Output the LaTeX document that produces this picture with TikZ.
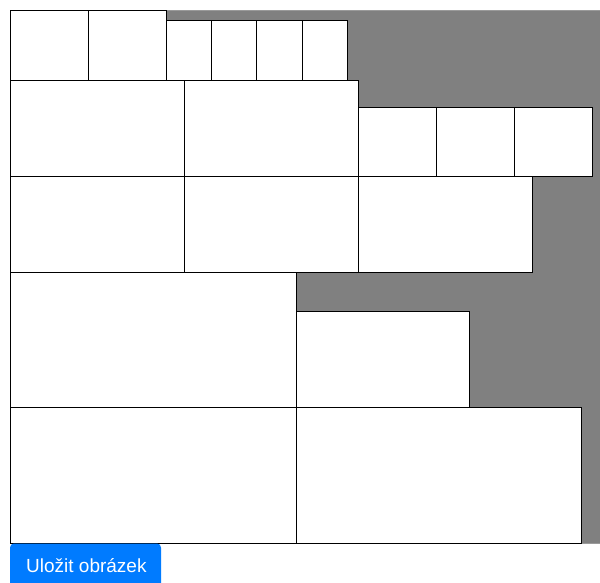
\documentclass[tikz,border=0pt]{standalone}
\usepackage{fontspec}
\setmainfont{Liberation Sans}
\usetikzlibrary{positioning}
\definecolor{cgray}{HTML}{808080}
\definecolor{cedge}{HTML}{9A9A9A}
\definecolor{cbtn}{HTML}{007BFF}
\begin{document}
\begin{tikzpicture}[
    x=1pt, y=-1pt,
    piece/.style={rectangle, draw=black, fill=white, line width=0.8pt,
                  inner sep=0pt, outer sep=0pt, anchor=north west},
]
\clip (0,0) rectangle (600,582);
\fill[white] (0,0) rectangle (600,582);
% canvas
\filldraw[fill=cgray, draw=cedge, line width=1pt] (10,10) rectangle (610,543);
% row 1
\node[piece, minimum width=78pt, minimum height=70pt] (a1) at (10,10) {};
\node[piece, minimum width=78pt, minimum height=70pt] (a2) at (88,10) {};
\node[piece, minimum width=45pt, minimum height=60pt] (a3) at (166,20) {};
\node[piece, minimum width=45pt, minimum height=60pt] (a4) at (211,20) {};
\node[piece, minimum width=46pt, minimum height=60pt] (a5) at (256,20) {};
\node[piece, minimum width=45pt, minimum height=60pt] (a6) at (302,20) {};
% row 2
\node[piece, minimum width=174pt, minimum height=96pt] (b1) at (10,80) {};
\node[piece, minimum width=174pt, minimum height=96pt] (b2) at (184,80) {};
\node[piece, minimum width=78pt, minimum height=69pt] (b3) at (358,107) {};
\node[piece, minimum width=78pt, minimum height=69pt] (b4) at (436,107) {};
\node[piece, minimum width=78pt, minimum height=69pt] (b5) at (514,107) {};
% row 3
\node[piece, minimum width=174pt, minimum height=96pt] (c1) at (10,176) {};
\node[piece, minimum width=174pt, minimum height=96pt] (c2) at (184,176) {};
\node[piece, minimum width=174pt, minimum height=96pt] (c3) at (358,176) {};
% row 4
\node[piece, minimum width=286pt, minimum height=135pt] (d1) at (10,272) {};
\node[piece, minimum width=173pt, minimum height=96pt] (d2) at (296,311) {};
% row 5
\node[piece, minimum width=286pt, minimum height=136pt] (e1) at (10,407) {};
\node[piece, minimum width=285pt, minimum height=136pt] (e2) at (296,407) {};
% button
\fill[cbtn, rounded corners=4pt] (10,543.5) rectangle (161,595);
\node[text=white, font=\fontsize{19}{22}\selectfont, anchor=base west,
      inner sep=0pt] (save) at (26,572.5) {Uložit obrázek};
\end{tikzpicture}
\end{document}
